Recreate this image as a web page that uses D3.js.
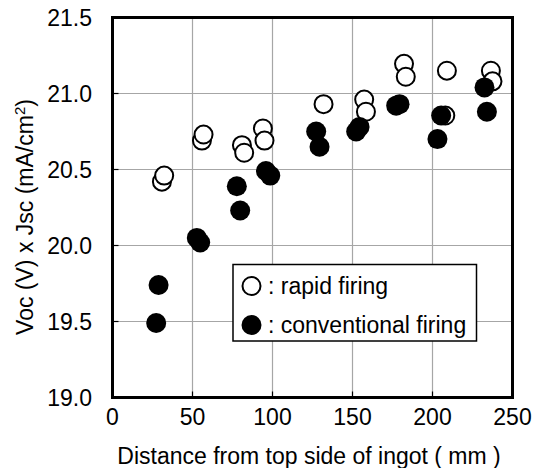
<!DOCTYPE html>
<html>
<head>
<meta charset="utf-8">
<script src="https://cdn.jsdelivr.net/npm/d3@7"></script>
<style>
  html, body { margin: 0; padding: 0; background: #fff; }
  svg { display: block; }
  text { font-family: "Liberation Sans", Arial, Helvetica, sans-serif; fill: #000; }
</style>
</head>
<body>
<svg id="chart" width="538" height="468"></svg>
<script>
// ---- data ----
const rapidX = [30.9, 32.3, 55.9, 56.9, 80.9, 82.3, 94.0, 95.0, 131.9, 157.3, 158.4, 182.2, 183.3, 208.0, 209.0, 236.5, 237.5];
const rapidY = [20.42, 20.46, 20.69, 20.73, 20.66, 20.61, 20.77, 20.69, 20.93, 20.96, 20.88, 21.195, 21.11, 20.855, 21.15, 21.15, 21.08];
const convX = [27.3, 28.8, 52.7, 54.8, 77.7, 79.8, 95.9, 98.6, 127.3, 129.4, 152.3, 154.4, 177.3, 179.4, 203.1, 205.4, 232.5, 234.0];
const convY = [19.49, 19.74, 20.05, 20.02, 20.39, 20.23, 20.49, 20.46, 20.75, 20.65, 20.75, 20.78, 20.92, 20.93, 20.70, 20.855, 21.04, 20.88];
const xTicks = [0, 50, 100, 150, 200, 250];
const yTicks = [19.0, 19.5, 20.0, 20.5, 21.0, 21.5];
const seriesNames = [": rapid firing", ": conventional firing"];
const xTitle = "Distance from top side of ingot ( mm )";

// ---- layout ----
const svg = d3.select("#chart");
const pLeft = 112.5, pRight = 512.5, pTop = 17.5, pBottom = 397.5;
const x = d3.scaleLinear().domain([0, 250]).range([pLeft, pRight]);
const y = d3.scaleLinear().domain([19.0, 21.5]).range([pBottom, pTop]);
const FS = 23;

// gridlines
const grid = svg.append("g");
grid.selectAll("line.gx").data(xTicks.slice(1, -1)).enter().append("line")
  .attr("x1", d => x(d)).attr("x2", d => x(d)).attr("y1", pTop).attr("y2", pBottom)
  .attr("stroke", "#a6a6a6").attr("stroke-width", 1.2);
grid.selectAll("line.gy").data(yTicks.slice(1, -1)).enter().append("line")
  .attr("x1", pLeft).attr("x2", pRight).attr("y1", d => y(d)).attr("y2", d => y(d))
  .attr("stroke", "#a6a6a6").attr("stroke-width", 1.2);

// inner ticks (black)
const tk = svg.append("g");
tk.selectAll("line.tx").data(xTicks.slice(1, -1)).enter().append("line")
  .attr("x1", d => x(d)).attr("x2", d => x(d)).attr("y1", pBottom).attr("y2", pBottom - 6)
  .attr("stroke", "#000").attr("stroke-width", 1.2);
tk.selectAll("line.ty").data(yTicks.slice(1, -1)).enter().append("line")
  .attr("x1", pLeft).attr("x2", pLeft + 6).attr("y1", d => y(d)).attr("y2", d => y(d))
  .attr("stroke", "#000").attr("stroke-width", 1.2);

// tick labels
svg.append("g").selectAll("text").data(xTicks).enter().append("text")
  .attr("x", d => x(d)).attr("y", 425).attr("text-anchor", "middle")
  .attr("font-size", FS).text(d => d3.format("d")(d));
svg.append("g").selectAll("text").data(yTicks).enter().append("text")
  .attr("x", 92).attr("y", d => y(d)).attr("dy", "0.36em").attr("text-anchor", "end")
  .attr("font-size", FS).text(d => d3.format(".1f")(d));

// axis titles
svg.append("text").attr("x", 309).attr("y", 464).attr("text-anchor", "middle")
  .attr("font-size", FS).text(xTitle);
const yt = svg.append("text").attr("transform", "translate(33,217) rotate(-90)")
  .attr("text-anchor", "middle").attr("font-size", FS);
yt.append("tspan").text("Voc (V) x Jsc (mA/cm");
yt.append("tspan").attr("font-size", 15).attr("dy", -8).text("2");
yt.append("tspan").attr("dy", 8).text(")");

// data points
svg.append("g").selectAll("circle").data(rapidX.map((d, i) => [d, rapidY[i]])).enter()
  .append("circle").attr("cx", d => x(d[0])).attr("cy", d => y(d[1])).attr("r", 9)
  .attr("fill", "#fff").attr("stroke", "#000").attr("stroke-width", 2);
svg.append("g").selectAll("circle").data(convX.map((d, i) => [d, convY[i]])).enter()
  .append("circle").attr("cx", d => x(d[0])).attr("cy", d => y(d[1])).attr("r", 10)
  .attr("fill", "#000");

// legend
const lg = svg.append("g");
lg.append("rect").attr("x", 233).attr("y", 264.5).attr("width", 243.5).attr("height", 76.5)
  .attr("fill", "#fff").attr("stroke", "#000").attr("stroke-width", 1.5);
lg.append("circle").attr("cx", 251.5).attr("cy", 286).attr("r", 9)
  .attr("fill", "#fff").attr("stroke", "#000").attr("stroke-width", 2);
lg.append("circle").attr("cx", 251.5).attr("cy", 325).attr("r", 10).attr("fill", "#000");
lg.selectAll("text").data(seriesNames).enter().append("text")
  .attr("x", 268).attr("y", (d, i) => i === 0 ? 294 : 333)
  .attr("font-size", FS).text(d => d);

// frame
svg.append("rect").attr("x", pLeft).attr("y", pTop).attr("width", pRight - pLeft).attr("height", pBottom - pTop)
  .attr("fill", "none").attr("stroke", "#000").attr("stroke-width", 3);
</script>
</body>
</html>
